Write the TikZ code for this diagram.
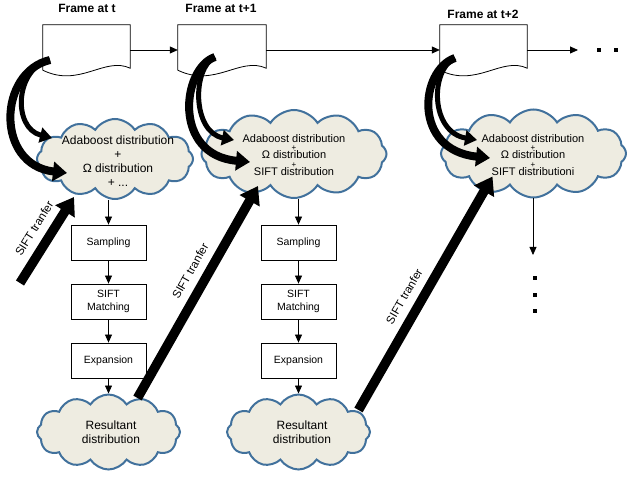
\documentclass[tikz,border=0pt]{standalone}
\usepackage{fontspec}
\setmainfont{Liberation Sans}
\usetikzlibrary{shapes.symbols,arrows.meta,calc}

\definecolor{cloudfill}{HTML}{EEECE1}
\definecolor{cloudline}{HTML}{41719C}

\begin{document}
\begin{tikzpicture}[
		x=1pt, y=-1pt,
		frame/.style={rectangle, minimum width=87pt, minimum height=50pt, inner sep=0},
		framelabel/.style={font=\fontsize{12}{14}\selectfont\bfseries},
		dcloud/.style={cloud, cloud puffs=12, cloud puff arc=115, cloud ignores aspect,
			draw=cloudline, line width=2pt, fill=cloudfill, inner sep=0},
		bigtext/.style={align=center, font=\fontsize{12}{14}\selectfont},
		smalltext/.style={align=center, font=\fontsize{11}{13}\selectfont},
		stepbox/.style={rectangle, draw, line width=0.8pt, minimum width=75pt, minimum height=35pt,
			align=center, font=\fontsize{10.5}{12.6}\selectfont},
		thin/.style={line width=0.8pt, -{Triangle[length=8pt,width=7pt]}},
		bigarrow/.style={line width=9.5pt, -{Triangle[length=17pt,width=22pt]}},
		bendwide/.style={line width=8pt, -{Triangle[length=14pt,width=19pt]}},
		bendnarrow/.style={line width=5pt, -{Triangle[length=12pt,width=15pt]}},
		tranfer/.style={sloped, above=6pt, inner sep=2pt, font=\fontsize{11.5}{13}\selectfont},
		hdot/.style={rectangle, fill, minimum size=4pt, inner sep=0}
	]
  \useasboundingbox (0,0) rectangle (627,478);

  % frames
  \node (f1) [frame] at (86.5,50) {};
  \node (f2) [frame, minimum width=88pt] at (222,50) {};
  \node (f3) [frame] at (483.5,50) {};
  \node (lt1) [framelabel] at (87,8) {Frame at t};
  \node (lt2) [framelabel] at (221,8) {Frame at t+1};
  \node (lt3) [framelabel] at (483,14) {Frame at t+2};
  \foreach \f in {f1,f2,f3}
    \draw[line width=0.8pt] (\f.north west) -- (\f.north east) -- ($(\f.south east)+(0,-7)$)
      .. controls ($(\f.south)+(18,-19)$) and ($(\f.south)+(-7,13)$) .. ($(\f.south west)+(0,-5)$) -- cycle;

  \coordinate (nxt) at (578,50);
  \node (d1) [hdot] at (599,50) {};
  \node (d2) [hdot] at (616,50) {};
  \draw[thin] (f1.east) -- (f2.west);
  \draw[thin] (f2.east) -- (f3.west);
  \draw[thin] (f3.east) -- (nxt);

  % distributions
  \node (c1) [dcloud, minimum width=156pt, minimum height=80pt] at (115,159) {};
  \node (c2) [dcloud, minimum width=185pt, minimum height=88pt] at (294,154) {};
  \node (c3) [dcloud, minimum width=185pt, minimum height=88pt] at (533.5,153.5) {};
  \node (c1t) [bigtext] at (118,161) {Adaboost distribution\\+\\Ω distribution\\+ ...};
  \node (c2t) [smalltext] at (294,155) {Adaboost distribution\\[-4.7pt]{\fontsize{8}{8}\selectfont +}\\[-4.7pt]Ω distribution\\[-4.7pt]{\fontsize{8}{8}\selectfont +}\\[-4.7pt]SIFT distribution};
  \node (c3t) [smalltext] at (533,155) {Adaboost distribution\\[-4.7pt]{\fontsize{8}{8}\selectfont +}\\[-4.7pt]Ω distribution\\[-4.7pt]{\fontsize{8}{8}\selectfont +}\\[-4.7pt]SIFT distributioni};

  % steps
  \node (s1) [stepbox] at (108.5,242.5) {Sampling};
  \node (m1) [stepbox] at (108.5,301.5) {SIFT\\Matching};
  \node (e1) [stepbox] at (108.5,360.5) {Expansion};
  \node (s2) [stepbox] at (298.5,242.5) {Sampling};
  \node (m2) [stepbox] at (298.5,301.5) {SIFT\\Matching};
  \node (e2) [stepbox] at (298.5,360.5) {Expansion};
  \node (r1) [dcloud, minimum width=143pt, minimum height=75pt] at (108.5,432) {};
  \node (r2) [dcloud, minimum width=143pt, minimum height=75pt] at (298.5,432) {};
  \node (r1t) [bigtext] at (111,432) {Resultant\\distribution};
  \node (r2t) [bigtext] at (302,432) {Resultant\\distribution};

  \draw[thin] (s1.north |- c1.south) -- (s1);
  \draw[thin] (s1) -- (m1);
  \draw[thin] (m1) -- (e1);
  \draw[thin] (e1) -- (r1.north -| e1);
  \draw[thin] (s2.north |- c2.south) -- (s2);
  \draw[thin] (s2) -- (m2);
  \draw[thin] (m2) -- (e2);
  \draw[thin] (e2) -- (r2.north -| e2);

  \coordinate (dn) at (533,255);
  \draw[thin] (c3.south -| dn) -- (dn);
  \node (v1) [hdot] at (535,278) {};
  \node (v2) [hdot] at (535,295) {};
  \node (v3) [hdot] at (535,311) {};

  % SIFT transfer
  \coordinate (in1) at (20,283);
  \draw[bigarrow] (in1) -- node[tranfer, pos=0.53] {SIFT tranfer} ($(c1)+(-41,38)$);
  \draw[bigarrow] ($(r1)+(29,-34)$) -- node[tranfer, pos=0.56] {SIFT tranfer} ($(c2)+(-36,32)$);
  \draw[bigarrow] ($(r2)+(60,-22)$) -- node[tranfer, pos=0.45] {SIFT tranfer} ($(c3)+(-41,23)$);

  % frame to distribution
  \draw[bendwide] ($(f1)+(-36.5,10)$) .. controls (-2,72) and (-5,165) .. ($(c1)+(-48,14)$);
  \draw[bendnarrow] ($(f1)+(-36.5,10)$) .. controls (15,68) and (12,128) .. ($(c1)+(-63,-21)$);
  \draw[bendwide] ($(f2)+(-7,7)$) .. controls (182,68) and (172,155) .. ($(c2)+(-44,8)$);
  \draw[bendnarrow] ($(f2)+(-7,7)$) .. controls (192,68) and (192,132) .. ($(c2)+(-60,-14)$);
  \draw[bendwide] ($(f3)+(-28.5,8)$) .. controls (420,70) and (412,150) .. ($(c3)+(-43.5,4.5)$);
  \draw[bendnarrow] ($(f3)+(-28.5,8)$) .. controls (430,70) and (430,132) .. ($(c3)+(-56.5,-13.5)$);
\end{tikzpicture}
\end{document}
